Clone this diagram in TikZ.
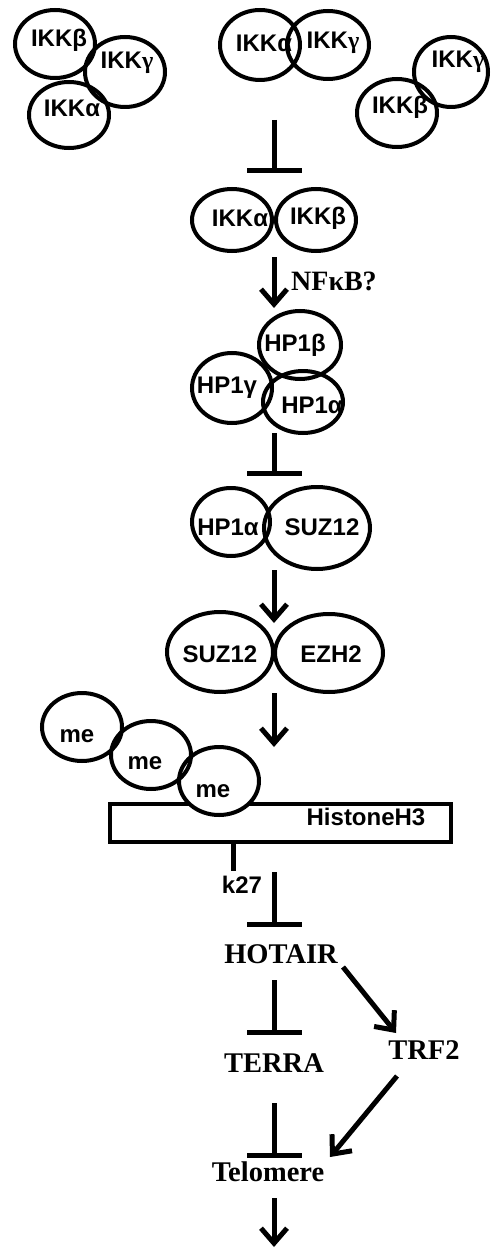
\documentclass[tikz,border=0pt]{standalone}
\usepackage{fontspec}
\usetikzlibrary{shapes.geometric,arrows.meta}
\newfontfamily\sfb{Liberation Sans}
\newfontfamily\rmb{Liberation Serif}
\begin{document}
\begin{tikzpicture}[x=1pt,y=-1pt,
  ell/.style={draw,ellipse,line width=4pt,inner sep=0pt},
  st/.style={font=\sfb\bfseries\fontsize{24}{27}\selectfont,inner sep=0pt},
  rt/.style={font=\rmb\bfseries\fontsize{28.5}{32}\selectfont,inner sep=0pt},
  act/.style={line width=5pt,-{Straight Barb[length=15pt,width=26pt]}},
  inh/.style={line width=5pt,-{Bar[width=55pt]}},
  plain/.style={line width=5pt}]
\useasboundingbox (0,0) rectangle (491,1249);
% top complexes
\node[ell,minimum width=80,minimum height=68] (e1) at (55,44) {};
\node[ell,minimum width=80,minimum height=70] (e2) at (125,72) {};
\node[ell,minimum width=80,minimum height=66] (e3) at (69,115) {};
\node[st] (t1) at (59,40) {IKKβ};
\node[st] (t2) at (127,63) {IKK{\rmb γ}};
\node[st] (t3) at (72,108) {IKKα};
\node[ell,minimum width=80,minimum height=70] (e4) at (260,45) {};
\node[ell,minimum width=82,minimum height=68] (e5) at (328,45) {};
\node[st] (t4) at (264,43) {IKKα};
\node[st] (t5) at (333,43) {IKK{\rmb γ}};
\node[ell,minimum width=74,minimum height=70] (e6) at (451,72) {};
\node[ell,minimum width=80,minimum height=68] (e7) at (397,113) {};
\node[st] (t6) at (458,62) {IKK{\rmb γ}};
\node[st] (t7) at (400,107) {IKKβ};
% IKKa/b
\node[ell,minimum width=80,minimum height=62] (e8) at (232,220) {};
\node[ell,minimum width=80,minimum height=62] (e9) at (316,220) {};
\node[st] (t8) at (240,218) {IKKα};
\node[st] (t9) at (318,218) {IKKβ};
\node[font=\rmb\bfseries\fontsize{28}{32}\selectfont,inner sep=0pt,anchor=base west] (nfkb) at (291,290) {NFκB?};
% HP1
\node[ell,minimum width=82,minimum height=68] (e10) at (300,345) {};
\node[ell,minimum width=80,minimum height=70] (e11) at (232,388) {};
\node[ell,minimum width=80,minimum height=62] (e12) at (303,402) {};
\node[st] (t10) at (295,345) {HP1β};
\node[st] (t11) at (227,388) {HP1γ};
\node[st] (t12) at (312,405) {HP1α};
% HP1a SUZ12
\node[ell,minimum width=78,minimum height=68] (e13) at (231,522) {};
\node[ell,minimum width=106,minimum height=82] (e14) at (317,528) {};
\node[st] (t13) at (228,527) {HP1α};
\node[st] (t14) at (322,527) {SUZ12};
% SUZ12 EZH2
\node[ell,minimum width=106,minimum height=80] (e15) at (220,652) {};
\node[ell,minimum width=108,minimum height=78] (e16) at (329,653) {};
\node[st] (t15) at (220,654) {SUZ12};
\node[st] (t16) at (331,654) {EZH2};
% Histone
\node[draw,rectangle,line width=4pt,minimum width=341,minimum height=38,inner sep=0pt] (h3) at (280.5,823) {};
\node[st] (th3) at (366,817) {HistoneH3};
\fill[white] (219,781) ellipse [x radius=40, y radius=34];
\node[ell,minimum width=80,minimum height=68] (e17) at (82,727) {};
\node[ell,minimum width=80,minimum height=68] (e18) at (151,755) {};
\node[ell,minimum width=80,minimum height=68] (e19) at (219,781) {};
\node[st] (t17) at (77,736) {me};
\node[st] (t18) at (145,763) {me};
\node[st] (t19) at (213,791) {me};
\node[st] (k27) at (242,885) {k27};
% lower texts
\node[rt] (hotair) at (281,954) {HOTAIR};
\node[rt] (terra) at (274,1063) {TERRA};
\node[rt] (trf2) at (424,1050) {TRF2};
\node[rt] (telo) at (268,1172) {Telomere};
% connector coordinates
\coordinate (a1) at (274,120); \coordinate (b1) at (274,173);
\coordinate (a2) at (274,257); \coordinate (b2) at (274,308);
\coordinate (a3) at (274,433); \coordinate (b3) at (274,476);
\coordinate (a4) at (274,570); \coordinate (b4) at (274,623);
\coordinate (a5) at (274,693); \coordinate (b5) at (274,747);
\coordinate (k1) at (233,844); \coordinate (k2) at (233,871);
\coordinate (a6) at (274,872); \coordinate (b6) at (274,927);
\coordinate (a7) at (274,980); \coordinate (b7) at (274,1035);
\coordinate (a8) at (343,967); \coordinate (b8) at (396,1033);
\coordinate (a9) at (397,1076); \coordinate (b9) at (330,1157);
\coordinate (a10) at (274,1103); \coordinate (b10) at (274,1158);
\coordinate (a11) at (274,1198); \coordinate (b11) at (274,1247);
\draw[inh] (a1) -- (b1);
\draw[act] (a2) -- (b2);
\draw[inh] (a3) -- (b3);
\draw[act] (a4) -- (b4);
\draw[act] (a5) -- (b5);
\draw[plain] (k1) -- (k2);
\draw[inh] (a6) -- (b6);
\draw[inh] (a7) -- (b7);
\draw[act] (a8) -- (b8);
\draw[act] (a9) -- (b9);
\draw[inh] (a10) -- (b10);
\draw[act] (a11) -- (b11);
\end{tikzpicture}
\end{document}
